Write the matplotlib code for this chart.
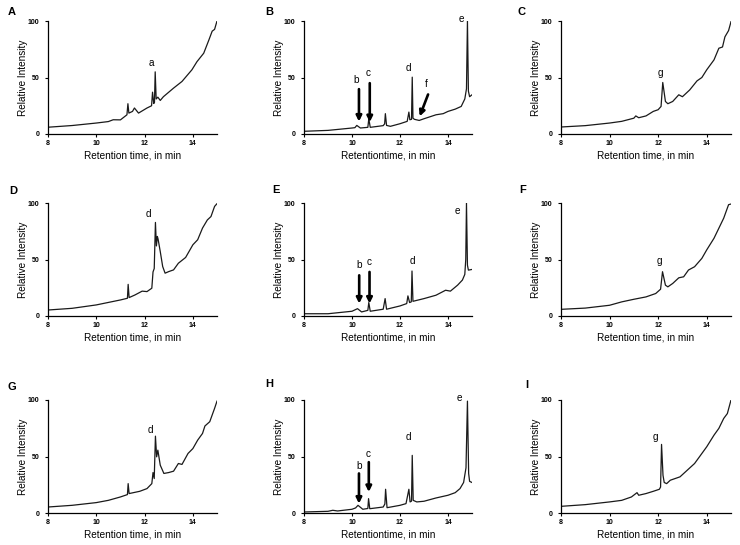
import matplotlib
matplotlib.use("Agg")
import matplotlib.pyplot as plt

plt.rcParams['font.family'] = ['Liberation Sans', 'DejaVu Sans']

# ---------------- data (retention time, relative intensity) ----------------
t_A = [8.0, 9.0, 10.0, 10.5, 10.7, 11.0, 11.27, 11.31, 11.35, 11.5, 11.58, 11.75, 12.1, 12.29,
       12.33, 12.38, 12.41, 12.44, 12.48, 12.55, 12.65, 12.78, 13.2, 13.55, 13.96, 14.17,
       14.45, 14.66, 14.8, 14.9, 15.0]
y_A = [6, 7.5, 9.7, 11, 12.6, 12.5, 17, 26.8, 18.5, 20, 23, 18.5, 23, 25,
       37, 27, 28, 55, 31, 32.6, 29.7, 33, 40.6, 46.5, 56.8, 64,
       71.5, 83, 91, 92.6, 100]

t_B = [8.0, 9.0, 10.0, 10.12, 10.2, 10.35, 10.66, 10.7, 10.76, 11.3, 11.36, 11.39, 11.44,
       11.6, 12.0, 12.3, 12.37, 12.41, 12.48, 12.51, 12.54, 12.6, 12.8, 13.0, 13.5, 13.8,
       14.0, 14.3, 14.55, 14.7, 14.77, 14.81, 14.85, 14.9, 15.0]
y_B = [2.4, 3.2, 5.3, 5.6, 7.6, 5.3, 5.9, 13.5, 5.9, 7.4, 9, 18, 7.6,
       6.8, 9.1, 11.2, 19.4, 12.6, 13, 50.3, 14, 13, 12, 13.5, 17, 18,
       20, 22, 24.4, 31, 40, 100, 38, 33, 34.7]

t_C = [8.0, 9.0, 10.0, 10.5, 11.0, 11.08, 11.2, 11.5, 11.8, 12.0, 12.12, 12.19, 12.3,
       12.4, 12.6, 12.85, 13.0, 13.3, 13.6, 13.8, 14.0, 14.3, 14.5, 14.65, 14.75, 14.9, 15.0]
y_C = [6.2, 7.4, 9.7, 11.2, 14, 16, 14.4, 16, 20, 21.5, 24.4, 45.6, 28.8,
       26.8, 28.8, 34.7, 33, 39, 47, 50, 56.8, 65.6, 75.9, 77, 86, 91.5, 99.4]

t_D = [8.0, 9.0, 10.0, 10.5, 11.0, 11.29, 11.32, 11.36, 11.6, 11.9, 12.1, 12.3, 12.35,
       12.4, 12.45, 12.49, 12.53, 12.56, 12.65, 12.75, 12.85, 13.0, 13.2, 13.4, 13.7,
       14.0, 14.2, 14.4, 14.6, 14.75, 14.9, 15.0]
y_D = [5.3, 6.8, 9.8, 12, 14.2, 15.7, 28, 16.3, 18.6, 22, 21.6, 24.6, 39,
       42, 82.8, 62, 70.4, 68, 57, 43.8, 37.9, 39.3, 40.8, 46.7, 51.8,
       63, 67.5, 77.8, 85, 88, 97, 99.4]

t_E = [8.0, 9.0, 10.0, 10.23, 10.4, 10.66, 10.7, 10.76, 11.3, 11.38, 11.44, 12.0, 12.28,
       12.33, 12.4, 12.47, 12.5, 12.54, 13.0, 13.5, 13.9, 14.1, 14.4, 14.6, 14.7, 14.74,
       14.77, 14.81, 14.85, 15.0]
y_E = [2, 2, 4.2, 6.5, 3.6, 5, 11.9, 4.2, 6, 15.4, 6, 8.9, 11,
       17.8, 11.9, 12.5, 39.8, 13, 15.4, 18.4, 22.8, 22, 27.3, 31.8, 36.8, 50,
       100, 45, 40.6, 41.2]

t_F = [8.0, 9.0, 10.0, 10.5, 11.0, 11.5, 11.9, 12.1, 12.18, 12.3, 12.4, 12.6, 12.85,
       13.05, 13.25, 13.5, 13.8, 14.0, 14.3, 14.5, 14.7, 14.9, 15.0]
y_F = [5.9, 7, 9.5, 12.5, 14.8, 16.9, 19.9, 23.7, 39.2, 27.3, 25.8, 28.8, 33.8,
       34.7, 40.7, 43.6, 51, 58.5, 68.8, 77.7, 86.6, 98.5, 99.1]

t_G = [8.0, 9.0, 10.0, 10.5, 11.0, 11.29, 11.32, 11.36, 11.8, 12.1, 12.3, 12.35, 12.4,
       12.45, 12.5, 12.55, 12.65, 12.8, 13.0, 13.2, 13.4, 13.55, 13.8, 14.0, 14.2, 14.4,
       14.5, 14.7, 14.9, 15.0]
y_G = [5.3, 6.8, 9.2, 11.2, 14.2, 16.3, 26, 17.2, 19.2, 21.6, 26, 35.8, 30.5,
       68, 49.7, 55.6, 42.3, 35, 35.8, 37, 43.8, 43, 52.7, 57, 64.5, 70.4,
       77, 80.8, 92.6, 99]

t_H = [8.0, 9.0, 9.2, 9.4, 10.0, 10.15, 10.25, 10.45, 10.66, 10.69, 10.74, 11.3, 11.37,
       11.4, 11.46, 12.0, 12.25, 12.37, 12.42, 12.48, 12.51, 12.55, 12.7, 13.0, 13.5,
       14.0, 14.3, 14.5, 14.65, 14.75, 14.81, 14.86, 14.9, 15.0]
y_H = [0.9, 1.5, 2.4, 1.8, 3.3, 4.5, 6.8, 3.3, 4, 12.7, 3.8, 5.3, 8,
       21, 4.7, 6.8, 8.3, 21, 9.8, 10.5, 51, 11.2, 9.8, 10.4, 13.3,
       15.7, 18, 21.6, 27, 40, 99, 35, 28, 27]

t_I = [8.0, 9.0, 10.0, 10.5, 10.9, 11.13, 11.2, 11.5, 11.8, 12.05, 12.1, 12.14, 12.2,
       12.25, 12.35, 12.5, 12.9, 13.2, 13.5, 13.7, 14.0, 14.3, 14.5, 14.7, 14.85, 15.0]
y_I = [5.9, 7.4, 9.8, 11.2, 14.2, 18, 15.7, 17.2, 19.2, 21, 23, 60.7, 33.4,
       27, 26, 29, 32, 37.9, 43.8, 49.7, 58.6, 68.9, 74.9, 83.7, 88, 100]

panel_labels = ['A', 'B', 'C', 'D', 'E', 'F', 'G', 'H', 'I']
x_ticks = [8, 10, 12, 14]
y_ticks = [0, 50, 100]
x_titles = ['Retention time, in min', 'Retentiontime, in min', 'Retention time, in min',
            'Retention time, in min', 'Retentiontime, in min', 'Retention time, in min',
            'Retention time, in min', 'Retentiontime, in min', 'Retention time, in min']
y_title = 'Relative Intensity'

# peak labels: (panel, text, x, y)
peak_text = [
    ('A', 'a', 12.3, 62.6),
    ('B', 'b', 10.19, 48), ('B', 'c', 10.68, 54), ('B', 'd', 12.33, 58),
    ('B', 'f', 13.1, 44.4), ('B', 'e', 14.55, 102),
    ('C', 'g', 12.08, 54),
    ('D', 'd', 12.15, 90),
    ('E', 'b', 10.3, 45), ('E', 'c', 10.71, 47.5), ('E', 'd', 12.5, 49), ('E', 'e', 14.38, 93),
    ('F', 'g', 12.05, 48.7),
    ('G', 'd', 12.26, 73.4),
    ('H', 'b', 10.29, 41.4), ('H', 'c', 10.67, 51.8), ('H', 'd', 12.33, 67.5), ('H', 'e', 14.49, 101.5),
    ('I', 'g', 11.9, 67.5),
]
# arrows: (panel, x_start, y_start, x_end, y_end)
peak_arrows = [
    ('B', 10.29, 39.7, 10.29, 11), ('B', 10.74, 45, 10.74, 10.5), ('B', 13.17, 35, 12.82, 15.6),
    ('E', 10.3, 36, 10.3, 11), ('E', 10.73, 39, 10.73, 11),
    ('H', 10.29, 35, 10.29, 8.3), ('H', 10.7, 45, 10.7, 18.6),
]

series = {'A': (t_A, y_A), 'B': (t_B, y_B), 'C': (t_C, y_C),
          'D': (t_D, y_D), 'E': (t_E, y_E), 'F': (t_F, y_F),
          'G': (t_G, y_G), 'H': (t_H, y_H), 'I': (t_I, y_I)}

# ---------------- layout (pixels) ----------------
W, H = 740, 545
col_lr = [(48, 217), (304, 472), (561, 731)]
row_tb = [(21, 134), (203, 316), (400, 513)]
letter_pos = {'A': (12, 12), 'B': (269, 12), 'C': (522, 12),
              'D': (13, 191), 'E': (276, 190), 'F': (523, 190),
              'G': (12, 387), 'H': (269, 384), 'I': (527, 385)}

fig = plt.figure(figsize=(W / 100, H / 100), dpi=100)
fig.patch.set_facecolor('white')

for i, lab in enumerate(panel_labels):
    r, c = divmod(i, 3)
    l, rr = col_lr[c]
    t, b = row_tb[r]
    ax = fig.add_axes([l / W, 1 - b / H, (rr - l) / W, (b - t) / H])
    tx, ty = series[lab]
    ax.plot(tx, ty, color='#1a1a1a', lw=0.9)
    ax.set_xlim(8, 15)
    ax.set_ylim(0, 100)
    ax.set_xticks(x_ticks)
    ax.set_yticks(y_ticks)
    for s in ('top', 'right'):
        ax.spines[s].set_visible(False)
    for s in ('left', 'bottom'):
        ax.spines[s].set_linewidth(0.9)
    ax.tick_params(axis='both', length=2, width=0.8, labelsize=5)
    ax.tick_params(axis='y', pad=4)
    ax.tick_params(axis='x', pad=2.5)
    for tl in ax.get_xticklabels() + ax.get_yticklabels():
        tl.set_fontweight('bold')
    ax.set_xlabel(x_titles[i], fontsize=7.2)
    ax.set_ylabel(y_title, fontsize=7.2)
    ax.yaxis.set_label_coords(-0.12, 0.5)
    ax.xaxis.set_label_coords(0.5, -0.15)
    for p, txt, x, y in peak_text:
        if p == lab:
            ax.text(x, y, txt, fontsize=7.2, ha='center', va='center', clip_on=False)
    for p, x0, y0, x1, y1 in peak_arrows:
        if p == lab:
            ax.annotate('', xy=(x1, y1), xytext=(x0, y0),
                        arrowprops=dict(arrowstyle='-|>', color='black', lw=1.9,
                                        mutation_scale=8, shrinkA=0, shrinkB=0))
    lx, ly = letter_pos[lab]
    fig.text(lx / W, 1 - ly / H, lab, fontsize=8, fontweight='bold', ha='center', va='center')

fig.savefig('out.png', dpi=100, facecolor='white')
